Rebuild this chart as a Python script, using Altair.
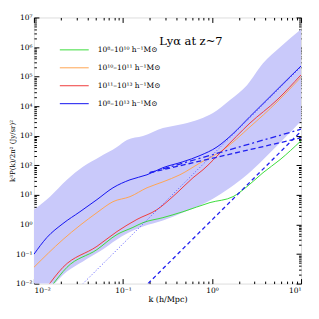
import altair as alt
import pandas as pd

# ---- data (log10 values) ----
SERIES = ["10⁸–10¹⁰ h⁻¹M⊙", "10¹⁰–10¹¹ h⁻¹M⊙", "10¹¹–10¹³ h⁻¹M⊙", "10⁸–10¹³ h⁻¹M⊙"]
COLORS = ["#3cdc3c", "#ffa552", "#f03c3c", "#1414f0"]
WIDTHS = [1.0, 1.0, 1.0, 2.6]

green_lk = [-1.80, -1.629, -1.292, -1.067, -0.888, -0.775, -0.551, -0.326, -0.022, 0.236, 0.393, 0.573, 0.764, 1.0]
green_ly = [-2.08, -1.45, -0.85, -0.34, -0.10, 0.06, 0.23, 0.43, 0.74, 0.94, 1.28, 1.75, 2.19, 2.83]

orange_lk = [-2.0, -1.674, -1.292, -1.112, -0.921, -0.730, -0.551, -0.360, -0.135, 0.124, 0.427, 0.730, 1.0]
orange_ly = [-1.45, -0.51, 0.40, 0.77, 0.94, 1.24, 1.44, 1.68, 2.08, 2.52, 3.30, 4.14, 4.98]

red_lk = [-1.86, -1.674, -1.292, -1.067, -0.843, -0.618, -0.393, -0.213, -0.101, 0.124, 0.427, 0.730, 1.0]
red_ly = [-2.15, -1.45, -0.74, -0.24, 0.17, 0.50, 1.07, 1.58, 1.85, 2.52, 3.43, 4.21, 5.06]

total_lk = [-2.0, -1.854, -1.674, -1.483, -1.292, -1.112, -0.921, -0.730, -0.551, -0.326, -0.135, 0.056, 0.236, 0.427, 0.618, 0.798, 1.0]
total_ly = [-1.01, -0.44, 0.03, 0.43, 0.84, 1.24, 1.51, 1.68, 1.92, 2.12, 2.33, 2.62, 3.07, 3.65, 4.22, 4.76, 5.36]

band_lk = [-2.0, -1.82, -1.629, -1.449, -1.258, -1.067, -0.955, -0.775, -0.551, -0.326, -0.135, 0.011, 0.202, 0.393, 0.573, 0.764, 1.0]
band_hi = [0.50, 0.94, 1.51, 1.95, 2.29, 2.62, 2.86, 2.99, 3.26, 3.40, 3.57, 3.77, 4.21, 4.71, 5.45, 5.99, 6.60]
band_lo = [-2.6, -2.15, -1.59, -1.25, -0.91, -0.51, -0.31, -0.07, 0.13, 0.40, 0.64, 0.87, 1.24, 1.68, 2.19, 2.76, 3.50]

dashdot_lk = [-0.70, 1.0]
dashdot_ly = [1.75, 3.22]
dashed_lk = [-0.70, 1.0]
dashed_ly = [1.75, 2.93]
steep_lk = [-0.719, 1.0]
steep_ly = [-2.0, 3.15]
dotted_lk = [-1.449, 1.0]
dotted_ly = [-2.0, 5.33]

FONT = "DejaVu Serif"

def frame(lk, ly, name):
    return pd.DataFrame({"k": [10 ** v for v in lk], "p": [10 ** v for v in ly], "series": name})

lines_df = pd.concat([
    frame(green_lk, green_ly, SERIES[0]),
    frame(orange_lk, orange_ly, SERIES[1]),
    frame(red_lk, red_ly, SERIES[2]),
    frame(total_lk, total_ly, SERIES[3]),
])
band_df = pd.DataFrame({"k": [10 ** v for v in band_lk],
                        "hi": [10 ** v for v in band_hi],
                        "lo": [10 ** v for v in band_lo]})

xs = alt.Scale(type="log", domain=[0.01, 10], nice=False)
ys = alt.Scale(type="log", domain=[0.01, 1e7], nice=False)

SUP = {-2: "⁻²", -1: "⁻¹", 0: "⁰", 1: "¹", 2: "²", 3: "³", 4: "⁴", 5: "⁵", 6: "⁶", 7: "⁷"}
e = "round(log(datum.value)/LN10)"
chain = "''"
for p, s in SUP.items():
    chain = f"({e}=={p}?'{s}':{chain})"
LABEL_EXPR = "'10'+" + chain

x_major = [10.0 ** p for p in range(-2, 2)]
y_major = [10.0 ** p for p in range(-2, 8)]
x_minor = [m * 10.0 ** p for p in range(-2, 1) for m in range(2, 10)]
y_minor = [m * 10.0 ** p for p in range(-2, 7) for m in range(2, 10)]


def ax(orient, values, size, labels=False, title=None, **kw):
    return alt.Axis(orient=orient, values=values, tickSize=size, offset=-size,
                    domain=False, grid=False, labels=labels, ticks=True,
                    tickColor="black", tickWidth=1, title=title, **kw)

lab = dict(labelExpr=LABEL_EXPR, labelFont=FONT, labelFontSize=7.5, labelColor="black",
           titleFont=FONT, titleFontWeight="normal", titleColor="black")

band = alt.Chart(band_df).mark_area(color="#c9c9fa", clip=True, interpolate="monotone").encode(
    x=alt.X("k:Q", scale=xs, axis=ax("bottom", x_major, 5, True, "k (h/Mpc)",
                                     labelPadding=3, titlePadding=1, titleFontSize=8, **lab)),
    y=alt.Y("lo:Q", scale=ys, axis=ax("left", y_major, 5, True, "k³P(k)/2π² (Jy/sr)²",
                                      labelPadding=2, titlePadding=0, titleFontSize=7, **lab)),
    y2="hi:Q",
)

leg = alt.Legend(orient="none", legendX=35, legendY=27, title=None,
                 symbolType="M-2.9,0L2.9,0", symbolSize=100, labelOffset=18,
                 rowPadding=9, padding=0, labelFont=FONT, labelFontSize=7.5,
                 labelColor="black")

lines = alt.Chart(lines_df).mark_line(clip=True, interpolate="monotone").encode(
    x=alt.X("k:Q", scale=xs, axis=ax("bottom", x_minor, 2.5)),
    y=alt.Y("p:Q", scale=ys, axis=ax("left", y_minor, 2.5)),
    color=alt.Color("series:N", scale=alt.Scale(domain=SERIES, range=COLORS), legend=leg),
    strokeWidth=alt.StrokeWidth("series:N", scale=alt.Scale(domain=SERIES, range=WIDTHS), legend=leg),
)

def extra(lk, ly, dash, color, width, xaxis=None, yaxis=None):
    d = frame(lk, ly, "x")
    return alt.Chart(d).mark_line(clip=True, strokeDash=dash, color=color, strokeWidth=width).encode(
        x=alt.X("k:Q", scale=xs, axis=xaxis),
        y=alt.Y("p:Q", scale=ys, axis=yaxis),
    )

dd = extra(dashdot_lk, dashdot_ly, [6, 3, 2, 3], "#2020f0", 1.3,
           ax("top", x_major, 5), ax("right", y_major, 5))
da = extra(dashed_lk, dashed_ly, [5, 3], "#2020f0", 1.3)
st = extra(steep_lk, steep_ly, [4, 3], "#2020f0", 1.3)
dt = extra(dotted_lk, dotted_ly, [1, 2], "#5050ff", 1.0)

text_df = pd.DataFrame({"k": [0.58], "p": [10 ** 6.16], "t": ["Lyα at z~7"]})
txt = alt.Chart(text_df).mark_text(font=FONT, fontSize=11.5, color="black",
                                   align="center", baseline="middle").encode(
    x=alt.X("k:Q", scale=xs, axis=ax("top", x_minor, 2.5)),
    y=alt.Y("p:Q", scale=ys, axis=ax("right", y_minor, 2.5)),
    text="t:N",
)

chart = alt.layer(band, lines, dd, da, st, dt, txt).resolve_axis(
    x="independent", y="independent"
).properties(
    width=268, height=267,
    autosize=alt.AutoSizeParams(type="none"),
    padding={"left": 26, "top": 9, "right": 10, "bottom": 27},
).configure_view(stroke="black", strokeWidth=1).configure(background="white")

chart.save("out.html", embed_options={"renderer": "svg", "actions": False})
